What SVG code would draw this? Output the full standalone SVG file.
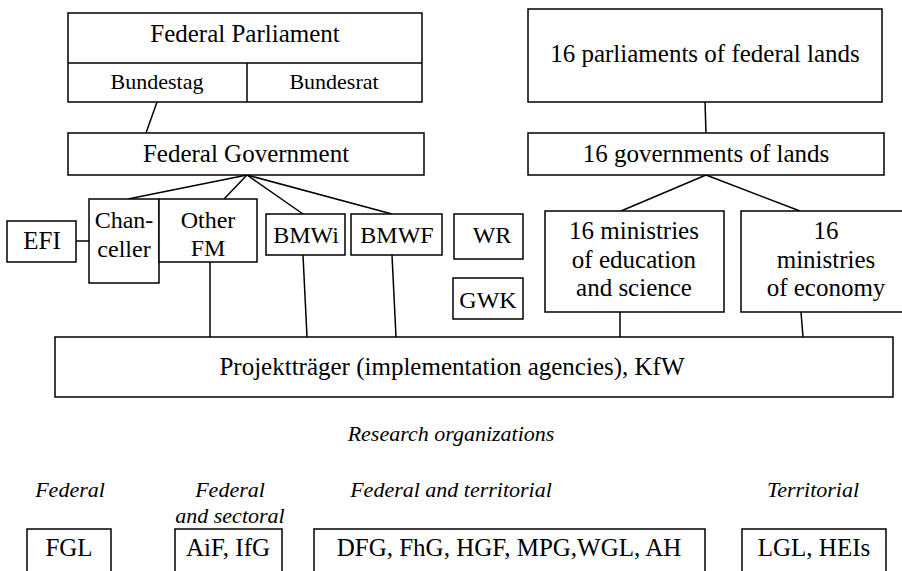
<svg xmlns="http://www.w3.org/2000/svg" width="902" height="571" viewBox="0 0 902 571" font-family="'Liberation Serif', 'Times New Roman', Times, 'DejaVu Serif', serif">
<style>
  .box { fill: #fff; stroke: #000; stroke-width: 1.5; }
  .ln { stroke: #000; stroke-width: 1.5; fill: none; }
  text { fill: #000; text-anchor: middle; }
  .t25 { font-size: 25px; }
  .t24 { font-size: 24px; }
  .t22 { font-size: 22px; }
  .it { font-size: 22px; font-style: italic; }
</style>
<rect width="902" height="571" fill="#fff"/>
<g id="connectors">
  <line class="ln" x1="157" y1="102" x2="146" y2="133"/>
  <line class="ln" x1="247" y1="175" x2="128" y2="199"/>
  <line class="ln" x1="247" y1="175" x2="224" y2="199"/>
  <line class="ln" x1="247" y1="175" x2="303" y2="214"/>
  <line class="ln" x1="247" y1="175" x2="392" y2="214"/>
  <line class="ln" x1="76" y1="241" x2="89" y2="241"/>
  <line class="ln" x1="210" y1="262" x2="210" y2="337"/>
  <line class="ln" x1="303" y1="255" x2="307" y2="337"/>
  <line class="ln" x1="392" y1="255" x2="396" y2="337"/>
  <line class="ln" x1="705" y1="102" x2="706" y2="133"/>
  <line class="ln" x1="706" y1="175" x2="621" y2="211"/>
  <line class="ln" x1="706" y1="175" x2="800" y2="211"/>
  <line class="ln" x1="620" y1="312" x2="620" y2="337"/>
  <line class="ln" x1="801" y1="312" x2="803" y2="337"/>
</g>
<g id="federal-parliament">
  <rect class="box" x="68" y="13" width="354" height="89"/>
  <line class="ln" x1="68" y1="63" x2="422" y2="63"/>
  <line class="ln" x1="247" y1="63" x2="247" y2="102"/>
  <text class="t25" x="245" y="42">Federal Parliament</text>
  <text class="t22" x="157" y="89">Bundestag</text>
  <text class="t22" x="334" y="89">Bundesrat</text>
</g>
<g id="federal-government">
  <rect class="box" x="68" y="133" width="356" height="42"/>
  <text class="t25" x="246" y="162">Federal Government</text>
</g>
<g id="efi">
  <rect class="box" x="7" y="221" width="69" height="41"/>
  <text class="t25" x="42" y="249">EFI</text>
</g>
<g id="chanceller">
  <rect class="box" x="89" y="199" width="70" height="84"/>
  <text class="t24" x="124" y="228">Chan-</text>
  <text class="t24" x="124" y="257">celler</text>
</g>
<g id="other-fm">
  <rect class="box" x="159" y="199" width="98" height="63"/>
  <text class="t24" x="208" y="228">Other</text>
  <text class="t24" x="208" y="256">FM</text>
</g>
<g id="bmwi">
  <rect class="box" x="266" y="214" width="79" height="41"/>
  <text class="t24" x="306" y="243">BMWi</text>
</g>
<g id="bmwf">
  <rect class="box" x="351" y="214" width="91" height="41"/>
  <text class="t24" x="397" y="243">BMWF</text>
</g>
<g id="wr">
  <rect class="box" x="454" y="214" width="69" height="45"/>
  <text class="t24" x="492" y="243">WR</text>
</g>
<g id="gwk">
  <rect class="box" x="453" y="278" width="70" height="41"/>
  <text class="t24" x="488" y="308">GWK</text>
</g>
<g id="land-parliaments">
  <rect class="box" x="528" y="9" width="354" height="93"/>
  <text class="t25" x="705" y="62">16 parliaments of federal lands</text>
</g>
<g id="land-governments">
  <rect class="box" x="528" y="133" width="356" height="42"/>
  <text class="t25" x="706" y="162">16 governments of lands</text>
</g>
<g id="ministries-education">
  <rect class="box" x="545" y="211" width="179" height="101"/>
  <text class="t25" x="634" y="239">16 ministries</text>
  <text class="t25" x="634" y="268">of education</text>
  <text class="t25" x="634" y="296">and science</text>
</g>
<g id="ministries-economy">
  <rect class="box" x="741" y="211" width="165" height="101"/>
  <text class="t25" x="826" y="239">16</text>
  <text class="t25" x="826" y="268">ministries</text>
  <text class="t25" x="826" y="296">of economy</text>
</g>
<g id="projekttraeger">
  <rect class="box" x="55" y="337" width="838" height="60"/>
  <text class="t25" x="452" y="375">Projektträger (implementation agencies), KfW</text>
</g>
<g id="labels">
  <text class="it" x="451" y="441">Research organizations</text>
  <text class="it" x="70" y="497">Federal</text>
  <text class="it" x="230" y="497">Federal</text>
  <text class="it" x="230" y="523">and sectoral</text>
  <text class="it" x="451" y="497">Federal and territorial</text>
  <text class="it" x="813" y="497">Territorial</text>
</g>
<g id="fgl">
  <rect class="box" x="27" y="529" width="84" height="60"/>
  <text class="t25" x="69" y="556">FGL</text>
</g>
<g id="aif-ifg">
  <rect class="box" x="175" y="529" width="107" height="60"/>
  <text class="t25" x="228" y="556">AiF, IfG</text>
</g>
<g id="federal-territorial">
  <rect class="box" x="314" y="529" width="391" height="60"/>
  <text class="t25" x="509" y="556">DFG, FhG, HGF, MPG,WGL, AH</text>
</g>
<g id="lgl-heis">
  <rect class="box" x="742" y="529" width="144" height="60"/>
  <text class="t25" x="814" y="556">LGL, HEIs</text>
</g>
</svg>
